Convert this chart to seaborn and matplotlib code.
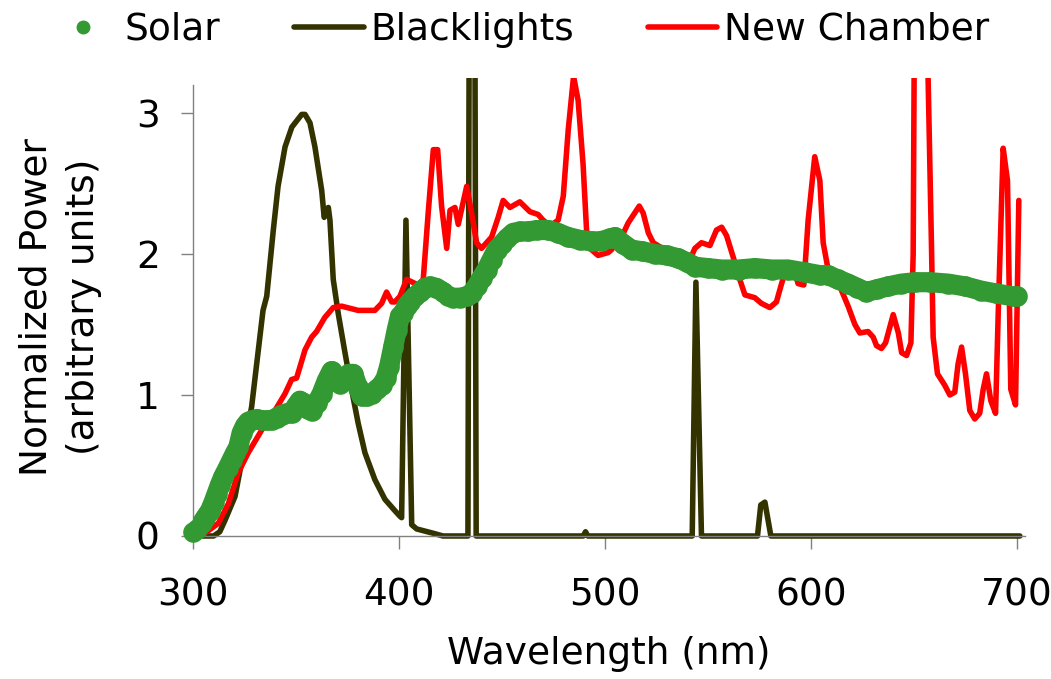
import numpy as np
import pandas as pd
import matplotlib
matplotlib.use("Agg")
import matplotlib.pyplot as plt
from matplotlib.lines import Line2D
from matplotlib.patches import Rectangle
import seaborn as sns

# ---------------- data ----------------
bl_x = [300, 310, 313, 315.5, 320.4, 325, 328.5, 331, 334, 335.8, 339, 341.3, 344.7, 348,
        352.8, 354.4, 356.8, 359.2, 362.5, 363.7, 365.7, 366.5, 368.1, 370.5, 373.8, 377,
        380.2, 383.5, 388.3, 393.2, 398, 400.5, 401.3, 403.4, 406.2, 408.6, 416.5, 421.4,
        433.5, 435.5, 437.5, 489.5, 490.6, 491.7, 542.4, 544.2, 546.9, 574.1, 575.7, 577.7,
        580.6, 701.5]
bl_y = [0.0, 0.0, 0.03, 0.11, 0.28, 0.63, 0.92, 1.23, 1.60, 1.70, 2.17, 2.48, 2.76, 2.90,
        2.99, 2.99, 2.93, 2.76, 2.45, 2.26, 2.33, 2.24, 1.82, 1.58, 1.30, 1.04,
        0.80, 0.59, 0.40, 0.26, 0.18, 0.14, 0.13, 2.24, 0.08, 0.05, 0.02, 0.0,
        0.0, 12.0, 0.0, 0.0, 0.03, 0.0, 0.0, 1.80, 0.0, 0.0, 0.22, 0.24,
        0.0, 0.0]

nc_x = [300, 304, 305.8, 312.3, 317.2, 322, 326.8, 333.3, 339.8, 344.7, 347.9, 350.3, 354.4,
        357.6, 360, 364, 368.1, 372.2, 380.2, 388.3, 391.6, 394, 396.5, 398, 400.5, 403.7,
        409.4, 411.8, 414.2, 416.7, 418.8, 420.7, 423.2, 424.8, 427.2, 428.8, 432.9, 435.3,
        437.7, 440.1, 445, 448.2, 450.6, 453.9, 458.7, 463.6, 467.6, 470, 473.5, 477.3,
        479.8, 482.2, 484.8, 487, 489.4, 491.1, 493.5, 496.7, 501.6, 503.2, 508.1, 511.3,
        516.7, 518.6, 521.1, 523.5, 529.1, 534, 537.2, 541.3, 543.7, 546.9, 551, 554.2,
        556.7, 559.1, 563.1, 565.5, 568, 572.8, 576, 580.1, 583.3, 585.8, 589, 591.4,
        593.8, 596.6, 598.7, 601.9, 604.4, 606, 608.4, 614.1, 618.1, 621.4, 623.8, 627.8,
        630.3, 631.9, 634.3, 636.3, 640, 642.5, 644.1, 646.5, 648.6, 649.7, 650.6, 655.5,
        658.6, 659.4, 661.5, 665, 667.5, 669.9, 671.5, 673.2, 675.1, 677.2, 679.6, 682,
        683.7, 685.3, 687.4, 689.7, 691, 693.4, 695.5, 697.1, 699.4, 701]
nc_y = [0.0, 0.01, 0.02, 0.09, 0.23, 0.45, 0.59, 0.75, 0.89, 1.01, 1.11, 1.12, 1.32,
        1.41, 1.45, 1.55, 1.62, 1.63, 1.60, 1.60, 1.65, 1.73, 1.66, 1.66, 1.70, 1.82,
        1.78, 1.82, 2.29, 2.74, 2.74, 2.34, 2.04, 2.31, 2.33, 2.21, 2.48, 2.29,
        2.08, 2.04, 2.12, 2.26, 2.38, 2.33, 2.37, 2.30, 2.28, 2.24, 2.20, 2.24,
        2.41, 2.88, 3.26, 3.09, 2.64, 2.17, 2.03, 1.99, 2.01, 2.03, 2.12, 2.22,
        2.34, 2.29, 2.15, 2.08, 2.03, 1.98, 1.91, 1.96, 2.04, 2.08, 2.06, 2.17,
        2.19, 2.13, 1.94, 1.82, 1.71, 1.69, 1.65, 1.62, 1.66, 1.79, 1.94, 1.92,
        1.79, 1.78, 2.24, 2.69, 2.52, 2.08, 1.89, 1.77, 1.63, 1.50, 1.44, 1.45,
        1.41, 1.35, 1.33, 1.37, 1.57, 1.44, 1.30, 1.28, 1.37, 2.00, 4.50, 4.30,
        2.05, 1.41, 1.15, 1.07, 1.00, 1.02, 1.22, 1.34, 1.15, 0.89, 0.83, 0.87,
        1.04, 1.15, 0.96, 0.87, 1.58, 2.75, 2.52, 1.04, 0.93, 2.38]

sol_x = [300.1, 302, 304.2, 306, 308.3, 310, 311.5, 313, 314.7, 316.8, 318.8, 320.5, 322,
         323.6, 325.2, 326.8, 328.5, 331, 333.3, 335.8, 338.2, 340.6, 343.1, 345.5, 347.9,
         350, 351.9, 354, 355.8, 357.6, 360, 362.5, 364.9, 367.3, 369.3, 371.4, 373.6,
         375.6, 377.8, 379.9, 381.9, 384.4, 386.8, 389.2, 391.6, 393.6, 395.2, 397.2,
         398.9, 400.5, 402.1, 403.7, 405.3, 407.8, 410.2, 412.6, 415, 418.2, 421.5, 424,
         426.4, 429.5, 432.9, 435.3, 437.7, 440.1, 442.6, 445, 447.4, 450, 452.5, 455.5,
         459, 462.8, 467, 472.5, 477, 482.2, 488, 493.5, 498, 502.4, 504.9, 509, 513, 518,
         524.3, 530, 535.6, 540, 543.7, 550, 556.7, 565, 572.8, 581, 589, 597, 604.4,
         608.4, 613, 618.1, 622.5, 627, 632, 637.5, 644, 650.5, 658, 666.7, 675, 682.8,
         690, 698.2, 700]
sol_y = [0.03, 0.05, 0.09, 0.13, 0.18, 0.24, 0.30, 0.36, 0.42, 0.48, 0.54, 0.59, 0.63,
         0.73, 0.78, 0.81, 0.82, 0.83, 0.82, 0.82, 0.82, 0.84, 0.86, 0.87, 0.87,
         0.92, 0.96, 0.94, 0.90, 0.89, 0.94, 1.01, 1.10, 1.17, 1.12, 1.08, 1.12,
         1.15, 1.15, 1.06, 0.99, 0.99, 1.01, 1.04, 1.07, 1.12, 1.20, 1.34,
         1.46, 1.56, 1.58, 1.63, 1.66, 1.70, 1.73, 1.76, 1.77, 1.76, 1.73, 1.70,
         1.69, 1.69, 1.70, 1.72, 1.77, 1.83, 1.89, 1.96, 2.03, 2.07, 2.11, 2.15,
         2.16, 2.16, 2.17, 2.17, 2.15, 2.12, 2.10, 2.09, 2.09, 2.11, 2.12, 2.07, 2.03, 2.02,
         2.00, 1.99, 1.97, 1.94, 1.91, 1.90, 1.89, 1.89, 1.90, 1.89, 1.89, 1.87, 1.85,
         1.85, 1.82, 1.79, 1.76, 1.73, 1.75, 1.77, 1.79, 1.80, 1.80, 1.79, 1.77, 1.74,
         1.72, 1.70, 1.70]

x_ticks = [300, 400, 500, 600, 700]
y_ticks = [0, 1, 2, 3]
series_names = ["Solar", "Blacklights", "New Chamber"]
x_label = "Wavelength (nm)"
y_label = "Normalized Power\n(arbitrary units)"

# ---------------- style ----------------
sns.set_style("ticks")
plt.rcParams["font.family"] = ["DejaVu Sans"]
plt.rcParams["text.color"] = "black"
plt.rcParams["axes.labelcolor"] = "black"
FS = 27
C_SOLAR = "#339933"
C_BL = "#333300"
C_NC = "#ff0000"
C_AX = "#808080"
LW = 4.0

fig = plt.figure(figsize=(10.51, 6.79), dpi=100)
ax = fig.add_axes([193 / 1051, 1 - 536 / 679, (1025 - 193) / 1051, (536 - 77.75) / 679])

df_bl = pd.DataFrame({"x": bl_x, "y": bl_y})
df_nc = pd.DataFrame({"x": nc_x, "y": nc_y})
df_sol = pd.DataFrame({"x": sol_x, "y": sol_y})

sns.lineplot(data=df_bl, x="x", y="y", sort=False, estimator=None, color=C_BL,
             linewidth=LW, ax=ax, zorder=2)
sns.lineplot(data=df_nc, x="x", y="y", sort=False, estimator=None, color=C_NC,
             linewidth=LW, ax=ax, zorder=3)
sns.lineplot(data=df_sol, x="x", y="y", sort=False, estimator=None, color=C_SOLAR,
             linewidth=14.5, ax=ax, zorder=4)
sns.scatterplot(data=df_sol, x="x", y="y", color=C_SOLAR, s=220, linewidth=0,
                ax=ax, zorder=5, clip_on=False)

for ln in ax.lines:
    ln.set_solid_joinstyle("round")
    ln.set_solid_capstyle("round")
    clip = Rectangle((0, -0.03), 1, 1.03, transform=ax.transAxes)
    ln.set_clip_path(clip)
for coll in ax.collections:
    coll.set_clip_on(False)

ax.set_xlim(300, 704)
ax.set_ylim(0, 3.25)
ax.set_xticks(x_ticks)
ax.set_yticks(y_ticks)
ax.set_xticklabels([str(t) for t in x_ticks])
ax.set_yticklabels([str(t) for t in y_ticks])

for s in ["top", "right"]:
    ax.spines[s].set_visible(False)
for s in ["left", "bottom"]:
    ax.spines[s].set_color(C_AX)
    ax.spines[s].set_linewidth(1.0)
ax.spines["left"].set_bounds(0, 3.2)

ax.tick_params(axis="both", direction="out", length=9, width=1.0, color=C_AX,
               labelsize=FS, labelcolor="black")
ax.tick_params(axis="x", pad=21)
ax.tick_params(axis="y", pad=15)

ax.set_xlabel(x_label, fontsize=FS, labelpad=16, color="black")
ax.set_ylabel(y_label, fontsize=FS, labelpad=24, linespacing=1.42, color="black")

handles = [
    Line2D([], [], marker="o", linestyle="None", color=C_SOLAR, markersize=9),
    Line2D([], [], color=C_BL, linewidth=LW),
    Line2D([], [], color=C_NC, linewidth=LW),
]
leg = fig.legend(handles, series_names, loc="center",
                 bbox_to_anchor=(519 / 1051, 1 - 30 / 679),
                 ncol=3, frameon=False, fontsize=FS, handlelength=1.85, handletextpad=0.18,
                 columnspacing=1.97, borderaxespad=0, borderpad=0)
for t in leg.get_texts():
    t.set_color("black")

fig.savefig("out.png", dpi=100)
